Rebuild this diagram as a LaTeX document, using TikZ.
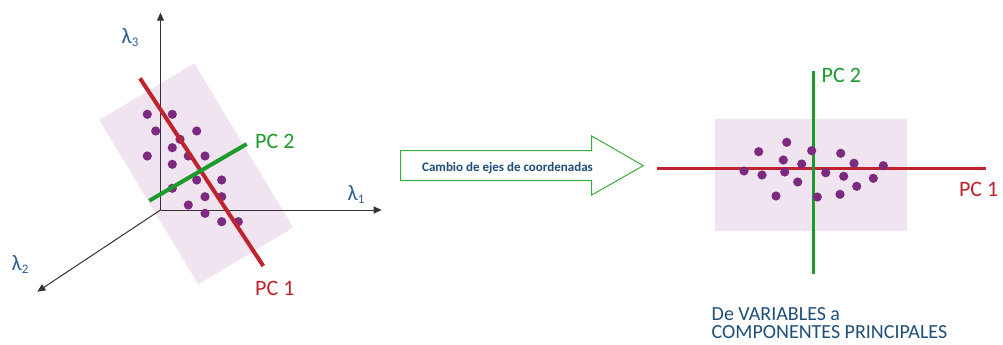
\documentclass[tikz,border=0pt]{standalone}
\usepackage{fontspec}
\setmainfont{Carlito}
\usetikzlibrary{arrows.meta}
\definecolor{pinkbg}{HTML}{EFE4EF}
\definecolor{dotc}{HTML}{7B2A80}
\definecolor{pcred}{HTML}{C0232E}
\definecolor{pcgreen}{HTML}{1E9A2A}
\definecolor{txtblue}{HTML}{1F4E79}
\definecolor{lamblue}{HTML}{2E5F94}
\definecolor{arrgreen}{HTML}{3DAA3D}
\tikzset{
  axisline/.style={draw=black!80, line width=1pt, -{Triangle[length=8pt,width=7pt]}},
  dot/.style={fill=dotc, draw=none},
  pcone/.style={draw=pcred, line width=#1},
  pctwo/.style={draw=pcgreen, line width=#1},
  pclabel/.style={font=\fontsize{22}{22}\selectfont, inner sep=0pt},
  lamlabel/.style={text=lamblue, font=\fontsize{22}{22}\selectfont, inner sep=0pt, anchor=base west},
}
\newcommand{\lamsub}[1]{λ\raisebox{-0.3ex}{\fontsize{13}{13}\selectfont #1}}
\begin{document}
\begin{tikzpicture}[x=1pt,y=-1pt]
\useasboundingbox (0,0) rectangle (1003,345);
% ---------- left ----------
\fill[pinkbg] (99.3,120) -- (194.3,63.3) -- (293.3,227.7) -- (198.3,284.3) -- cycle;
\coordinate (O) at (160.5,210);
\coordinate (l1end) at (381.7,210);
\coordinate (l3end) at (160.5,12.7);
\coordinate (l2end) at (37.3,291.7);
\draw[axisline] (O) -- (l1end);
\draw[axisline] (O) -- (l3end);
\draw[axisline] (O) -- (l2end);
\node[lamlabel] (lam1) at (347.5,200.5) {\lamsub{1}};
\node[lamlabel] (lam3) at (121.5,43.5) {\lamsub{3}};
\node[lamlabel] (lam2) at (11.5,270) {\lamsub{2}};
\foreach \x/\y in {147.3/114.3,172.3/114.3,155.7/131,196.7/131,180/139.3,172.3/147.7,147.3/156,188.3/156,205/156,172.3/164.3,196.7/180,221.7/180,172.3/188.3,205/196.7,221.7/196.7,188.3/205,205/213.3,221.7/221.7,238.3/221.7}
  \fill[dot] (\x,\y) circle (4.6);
\coordinate (r1a) at (140,78.3);
\coordinate (r1b) at (263.3,266);
\coordinate (g1a) at (149.3,200.7);
\coordinate (g1b) at (246.7,144);
\draw[pcone=4pt] (r1a) -- (r1b);
\draw[pctwo=4pt] (g1a) -- (g1b);
\node[pclabel, text=pcgreen, anchor=base west] (pc2l) at (255,148.3) {PC 2};
\node[pclabel, text=pcred, anchor=base west] (pc1l) at (255,295) {PC 1};
% ---------- arrow ----------
\draw[arrgreen, line width=1pt, fill=white]
  (400.7,150.7) -- (591.7,150.7) -- (591.7,136) -- (643.3,165.7) -- (591.7,195) -- (591.7,180.7) -- (400.7,180.7) -- cycle;
\node[text=txtblue, font=\bfseries\fontsize{13}{13}\selectfont, inner sep=0pt, anchor=base] (arrtxt) at (507.5,171.5) {Cambio de ejes de coordenadas};
% ---------- right ----------
\fill[pinkbg] (715,119.3) rectangle (906.7,230.7);
\coordinate (r2a) at (657.3,168.3);
\coordinate (r2b) at (985.7,168.3);
\coordinate (g2a) at (813.3,70.7);
\coordinate (g2b) at (813.3,274.3);
\draw[pcone=3pt] (r2a) -- (r2b);
\draw[pctwo=3pt] (g2a) -- (g2b);
\foreach \x/\y in {758.7/151.7,786.7/142.3,811.7/150.7,840.7/153.3,783.3/160,801.7/164,854/163.3,883.3/165.7,744/171,762/175,784.7/172,825.7/172.7,843.7/176.3,873.3/178.3,797.7/182,856.7/186.3,776/196,817.3/197,840/194.3}
  \fill[dot] (\x,\y) circle (4.6);
\node[pclabel, text=pcgreen, anchor=base west] (pc2r) at (821.5,82.7) {PC 2};
\node[pclabel, text=pcred, anchor=base east] (pc1r) at (998.5,196.7) {PC 1};
\node[text=txtblue, font=\fontsize{20}{18.5}\selectfont, align=left, anchor=base west, inner sep=0pt] (caption) at (711.5,338.5) {De VARIABLES a\\COMPONENTES PRINCIPALES};
\end{tikzpicture}
\end{document}
